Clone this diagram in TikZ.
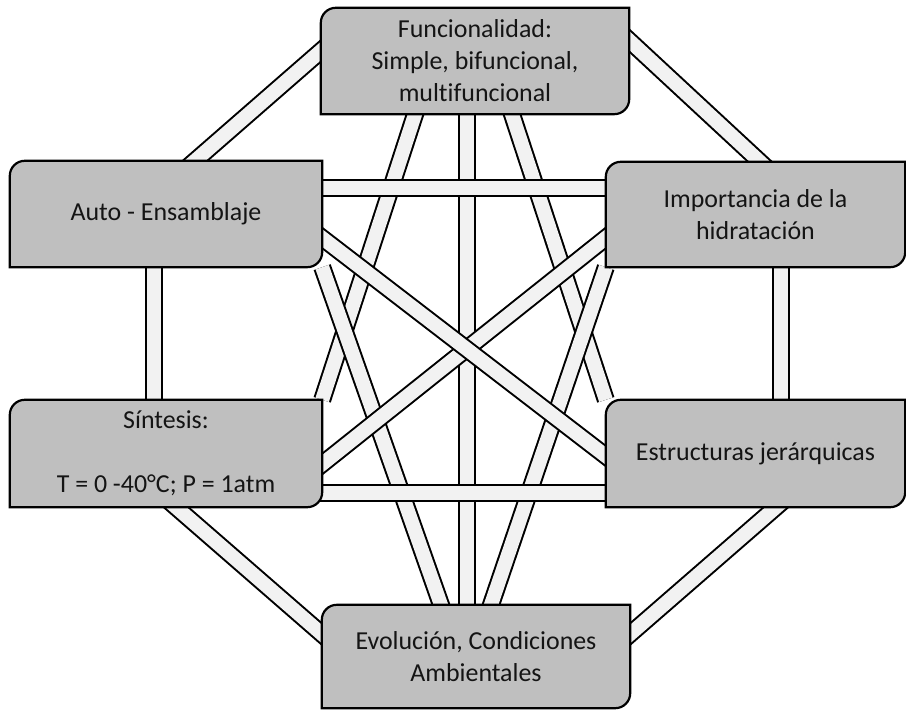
\documentclass[tikz,border=0pt]{standalone}
\usepackage{fontspec}
\setmainfont{Carlito}[Ligatures=NoCommon]
\usetikzlibrary{calc}
\definecolor{boxgray}{HTML}{BFBFBF}
\definecolor{barfill}{HTML}{F2F2F2}
\definecolor{txtcol}{HTML}{141414}
\pgfdeclarelayer{barlayer}
\pgfdeclarelayer{boxlayer}
\pgfsetlayers{barlayer,boxlayer,main}
\newcommand\diagcornerbox[1]{%
  \begin{pgfonlayer}{boxlayer}
    \draw[boxline] ([yshift=-15pt]#1.north west) arc[start angle=180,end angle=90,radius=15pt]
      -- (#1.north east) -- ([yshift=15pt]#1.south east) arc[start angle=0,end angle=-90,radius=15pt]
      -- (#1.south west) -- cycle;
  \end{pgfonlayer}}
\begin{document}
\begin{tikzpicture}[x=1pt,y=-1pt,
  boxtext/.style={inner sep=0pt, align=center, text=txtcol,
    font=\fontsize{25.9}{32}\selectfont},
  boxline/.style={draw=black, line width=2.2pt, fill=boxgray},
  bar/.style={draw=black, line width=2pt, double=barfill, double distance=14pt}]
\useasboundingbox (0,0) rectangle (906,711);

% nodes (text); shapes are drawn on the box layer
\node[boxtext, minimum width=308pt, minimum height=106pt] (F) at (475,61)
  {Funcionalidad:\\Simple, bifuncional,\\multifuncional};
\node[boxtext, minimum width=312pt, minimum height=106pt] (A) at (166,214)
  {Auto - Ensamblaje};
\node[boxtext, minimum width=299pt, minimum height=105pt] (I) at (755.5,214.5)
  {Importancia de la\\hidratación};
\node[boxtext, minimum width=312pt, minimum height=107pt] (S) at (166,453.5)
  {Síntesis:\\\strut\\T = 0 -40°C; P = 1atm};
\node[boxtext, minimum width=299pt, minimum height=107pt] (E) at (755.5,453.5)
  {Estructuras jerárquicas};
\node[boxtext, minimum width=308pt, minimum height=103pt] (V) at (476,656.5)
  {Evolución, Condiciones\\Ambientales};

\diagcornerbox{F}
\diagcornerbox{A}
\diagcornerbox{I}
\diagcornerbox{S}
\diagcornerbox{E}
\diagcornerbox{V}

\begin{pgfonlayer}{barlayer}
  % outer ring
  \draw[bar] ($(F.west)+(10,-18.7)$) -- ($(A.north)+(19.8,8)$);
  \draw[bar] ($(F.east)+(-10,-29.8)$) -- ($(I.north)+(13.1,8)$);
  \draw[bar] ($(A.south)+(-12,-10)$) -- ($(S.north)+(-12,10)$);
  \draw[bar] ($(I.south)+(25.5,-10)$) -- ($(E.north)+(25.5,10)$);
  \draw[bar] ($(S.south)+(0.8,-8)$) -- ($(V.west)+(10,-13.8)$);
  \draw[bar] ($(E.south)+(29.7,-8)$) -- ($(V.east)+(-10,-13.8)$);
  % centre vertical
  \draw[bar] ($(F.south)+(-8,-10)$) -- ($(V.north)+(-9,10)$);
  % slanted bars from top and bottom boxes
  \draw[bar] ($(F.south)+(-56.7,-10)$) -- (S.north east);
  \draw[bar] ($(F.south)+(33.7,-10)$) -- (E.north west);
  \draw[bar] ($(V.north)+(-31.5,10)$) -- (A.south east);
  \draw[bar] ($(V.north)+(11.6,10)$) -- (I.south west);
  % crossing diagonals
  \draw[bar] ($(S.east)+(-10,18.5)$) -- ($(I.west)+(10,15.5)$);
  \draw[bar] ($(A.east)+(-10,16.3)$) -- ($(E.west)+(10,10.2)$);
  % horizontals
  \draw[bar] ($(A.east)+(-10,-26)$) -- ($(I.west)+(10,-26.5)$);
  \draw[bar] ($(S.east)+(-10,39.5)$) -- ($(E.west)+(10,39.5)$);
\end{pgfonlayer}
\end{tikzpicture}
\end{document}
